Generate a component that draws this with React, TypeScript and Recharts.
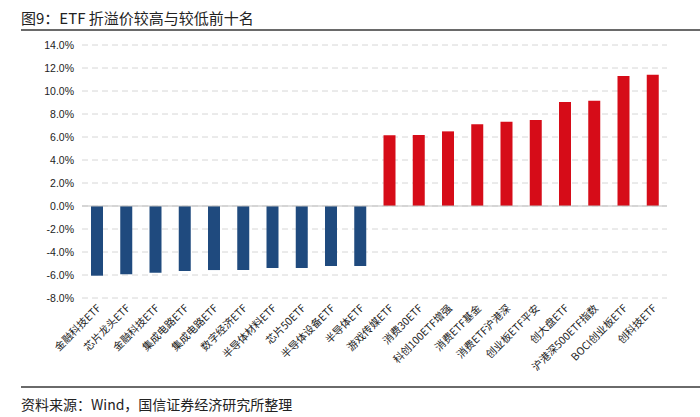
import { BarChart, Bar, XAxis, YAxis, CartesianGrid, ReferenceLine, Cell } from 'recharts';

const categories = [
  '金融科技ETF', '芯片龙头ETF', '金融科技ETF', '集成电路ETF', '集成电路ETF',
  '数字经济ETF', '半导体材料ETF', '芯片50ETF', '半导体设备ETF', '半导体ETF',
  '游戏传媒ETF', '消费30ETF', '科创100ETF增强', '消费ETF基金', '消费ETF沪港深',
  '创业板ETF平安', '创大盘ETF', '沪港深500ETF指数', 'BOCI创业板ETF', '创科技ETF',
];
const premium = [
  -6.06, -5.94, -5.8, -5.65, -5.57, -5.57, -5.39, -5.39, -5.22, -5.22,
  6.15, 6.17, 6.49, 7.1, 7.33, 7.48, 9.04, 9.16, 11.3, 11.42,
];
const yTicks = [-8, -6, -4, -2, 0, 2, 4, 6, 8, 10, 12, 14];

const BLUE = '#1f4a7e';
const RED = '#d60c18';
const FONT = '"Noto Sans CJK SC", "Liberation Sans", sans-serif';

const data = categories.map((name, i) => ({ name, value: premium[i] }));

function XTick({ x, y, payload }: any) {
  const tx = x + 5;
  const ty = y + 3;
  return (
    <text
      x={tx}
      y={ty}
      transform={`rotate(-45, ${tx}, ${ty})`}
      textAnchor="end"
      fontSize={10.5}
      fill="#222"
      fontFamily={FONT}
    >
      {payload.value}
    </text>
  );
}

export default function App() {
  return (
    <div style={{ position: 'absolute', left: 0, top: 0, width: 700, height: 417, background: '#fff', fontFamily: FONT }}>
      <div style={{ position: 'absolute', left: 21, top: 7, fontSize: 15, color: '#222' }}>
        图9：ETF 折溢价较高与较低前十名
      </div>
      <div style={{ position: 'absolute', left: 21, top: 29, width: 679, height: 2, background: '#6a6a6a' }} />
      <div style={{ position: 'absolute', left: 0, top: 0 }}>
        <BarChart width={700} height={385} data={data} margin={{ top: 45, right: 33, left: 0, bottom: 0 }}>
          <CartesianGrid vertical={false} stroke="#d6d6d6" strokeDasharray="6 4" />
          <YAxis
            width={82}
            domain={[-8, 14]}
            ticks={yTicks}
            interval={0}
            axisLine={false}
            tickLine={false}
            tickFormatter={(v: number) => `${v.toFixed(1)}%`}
            tick={{ fontSize: 10.5, fill: '#222', fontFamily: '"Liberation Sans", Arial, sans-serif' }}
          />
          <XAxis
            dataKey="name"
            interval={0}
            height={87}
            axisLine={false}
            tickLine={false}
            tick={<XTick />}
          />
          <ReferenceLine y={0} stroke="#bfbfbf" />
          <Bar dataKey="value" barSize={12} isAnimationActive={false}>
            {data.map((d, i) => (
              <Cell key={i} fill={d.value < 0 ? BLUE : RED} />
            ))}
          </Bar>
        </BarChart>
      </div>
      <div style={{ position: 'absolute', left: 21, top: 386, width: 679, height: 2, background: '#6a6a6a' }} />
      <div style={{ position: 'absolute', left: 21, top: 394, fontSize: 14, color: '#222' }}>
        资料来源：Wind，国信证券经济研究所整理
      </div>
    </div>
  );
}
